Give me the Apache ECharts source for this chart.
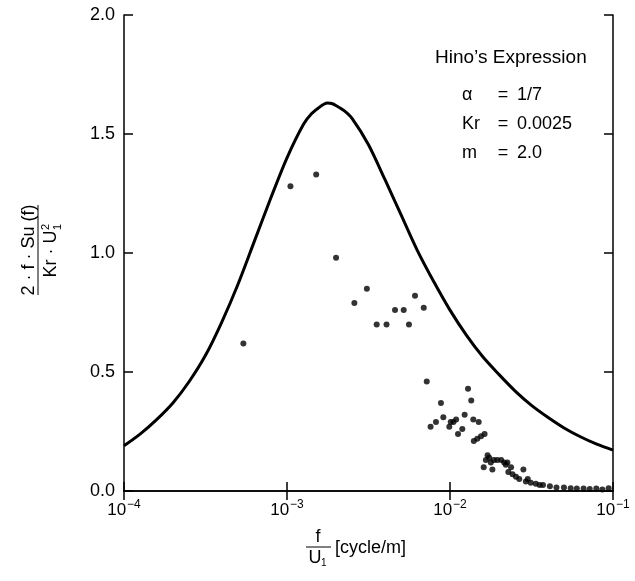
<!DOCTYPE html>
<html>
<head>
<meta charset="utf-8">
<script src="https://cdn.jsdelivr.net/npm/echarts@6/dist/echarts.min.js"></script>
<style>
  html, body { margin: 0; padding: 0; background: #fff; }
  #chart { width: 635px; height: 581px; }
</style>
</head>
<body>
<div id="chart"></div>
<script>
// Hino's expression curve (f [cycle/m], value)
const curveF = [1e-4, 1.26e-4, 1.585e-4, 1.995e-4, 2.512e-4, 3.162e-4, 3.981e-4, 5.012e-4, 6.31e-4, 7.943e-4,
  1e-3, 1.26e-3, 1.413e-3, 1.585e-3, 1.68e-3, 1.78e-3, 1.88e-3, 1.995e-3, 2.24e-3, 2.512e-3, 3.162e-3, 3.981e-3, 5.012e-3, 6.31e-3, 7.943e-3,
  1e-2, 1.26e-2, 1.585e-2, 1.995e-2, 2.512e-2, 3.162e-2, 3.981e-2, 5.012e-2, 6.31e-2, 7.943e-2, 1e-1];
const curveV = [0.19, 0.24, 0.30, 0.37, 0.46, 0.57, 0.71, 0.87, 1.05, 1.23,
  1.40, 1.54, 1.585, 1.613, 1.625, 1.63, 1.628, 1.62, 1.598, 1.565, 1.455, 1.31, 1.16, 1.01, 0.88,
  0.76, 0.655, 0.565, 0.49, 0.42, 0.36, 0.31, 0.265, 0.228, 0.197, 0.172];

// measured points
const obsF = [5.4e-4, 1.05e-3, 1.51e-3, 2.0e-3, 2.59e-3, 3.09e-3, 3.55e-3, 4.08e-3, 4.6e-3, 5.2e-3,
  5.6e-3, 6.1e-3, 6.9e-3, 7.2e-3, 7.6e-3, 8.2e-3, 8.8e-3, 9.1e-3, 9.9e-3, 1.01e-2,
  1.05e-2, 1.09e-2, 1.12e-2, 1.19e-2, 1.23e-2, 1.29e-2, 1.35e-2, 1.39e-2, 1.5e-2, 1.4e-2,
  1.47e-2, 1.55e-2, 1.63e-2, 1.61e-2, 1.66e-2, 1.7e-2, 1.74e-2, 1.78e-2, 1.82e-2, 1.86e-2,
  1.95e-2, 2.06e-2, 2.15e-2, 2.2e-2, 2.25e-2, 2.28e-2, 2.37e-2, 2.42e-2, 2.54e-2, 2.66e-2,
  2.82e-2, 2.92e-2, 3.0e-2, 3.13e-2, 3.36e-2, 3.55e-2, 3.72e-2, 4.1e-2, 4.5e-2, 5.0e-2,
  5.5e-2, 6.0e-2, 6.6e-2, 7.2e-2, 7.9e-2, 8.6e-2, 9.4e-2];
const obsV = [0.62, 1.28, 1.33, 0.98, 0.79, 0.85, 0.70, 0.70, 0.76, 0.76,
  0.70, 0.82, 0.77, 0.46, 0.27, 0.29, 0.37, 0.31, 0.27, 0.29,
  0.29, 0.30, 0.24, 0.26, 0.32, 0.43, 0.38, 0.30, 0.29, 0.21,
  0.22, 0.23, 0.24, 0.10, 0.13, 0.15, 0.14, 0.12, 0.09, 0.13,
  0.13, 0.13, 0.12, 0.11, 0.12, 0.08, 0.10, 0.07, 0.06, 0.05,
  0.09, 0.04, 0.05, 0.035, 0.03, 0.025, 0.025, 0.02, 0.015, 0.015,
  0.012, 0.01, 0.01, 0.008, 0.01, 0.006, 0.012];

const yTicks = ["0.0", "0.5", "1.0", "1.5", "2.0"];
const paramNames = ["\u03b1", "Kr", "m"];
const paramValues = ["1/7", "0.0025", "2.0"];

const FONT = "'Liberation Sans', Arial, sans-serif";
const chart = echarts.init(document.getElementById("chart"));

const axisLine = { show: true, lineStyle: { color: "#000", width: 1.5 } };
const tick = { show: true, inside: true, length: 9, lineStyle: { color: "#000", width: 1.5 } };

const params = [];
paramNames.forEach((n, i) => {
  const y = 95 + i * 29;
  params.push({ type: "text", x: 462, y: y, style: { text: n, font: "18px " + FONT, fill: "#000", verticalAlign: "middle" } });
  params.push({ type: "text", x: 503, y: y, style: { text: "=", font: "18px " + FONT, fill: "#000", align: "center", verticalAlign: "middle" } });
  params.push({ type: "text", x: 517, y: y, style: { text: paramValues[i], font: "18px " + FONT, fill: "#000", verticalAlign: "middle" } });
});

chart.setOption({
  backgroundColor: "#fff",
  animation: false,
  grid: { left: 124, right: 22, top: 15, bottom: 90 },
  xAxis: [
    {
      type: "log", logBase: 10, min: 1e-4, max: 1e-1, position: "bottom",
      axisLine: axisLine, axisTick: tick, splitLine: { show: false }, minorTick: { show: false },
      axisLabel: {
        margin: 8,
        formatter: v => {
          const e = Math.round(Math.log10(v));
          return "{b|10}{s|\u2212" + Math.abs(e) + "}";
        },
        rich: {
          b: { fontSize: 17, fontFamily: FONT, color: "#000", lineHeight: 20, verticalAlign: "bottom" },
          s: { fontSize: 12, fontFamily: FONT, color: "#000", lineHeight: 20, verticalAlign: "top", padding: [0, 0, 0, 1] }
        }
      }
    },
    {
      type: "log", logBase: 10, min: 1e-4, max: 1e-1, position: "top",
      axisLine: axisLine, axisTick: tick, axisLabel: { show: false }, splitLine: { show: false }
    }
  ],
  yAxis: [
    {
      type: "value", min: 0, max: 2, interval: 0.5, position: "left",
      axisLine: axisLine, axisTick: tick, splitLine: { show: false },
      axisLabel: {
        margin: 9, color: "#000", fontSize: 18, fontFamily: FONT,
        formatter: (v, i) => yTicks[i]
      }
    },
    {
      type: "value", min: 0, max: 2, interval: 0.5, position: "right",
      axisLine: axisLine, axisTick: tick, axisLabel: { show: false }, splitLine: { show: false }
    }
  ],
  graphic: [
    { type: "text", x: 435, y: 58, style: { text: "Hino\u2019s Expression", font: "19px " + FONT, fill: "#000", verticalAlign: "middle" } },
    ...params,
    // y-axis title, rotated fraction
    {
      type: "group", x: 38, y: 250, rotation: Math.PI / 2,
      children: [
        { type: "text", x: 0, y: -9, style: { text: "2 \u00b7 f \u00b7 Su (f)", font: "18px " + FONT, fill: "#000", align: "center", verticalAlign: "middle" } },
        { type: "line", shape: { x1: -45, y1: 0, x2: 45, y2: 0 }, style: { stroke: "#000", lineWidth: 1 } },
        { type: "text", x: -4, y: 13, style: { text: "Kr \u00b7 U", font: "18px " + FONT, fill: "#000", align: "center", verticalAlign: "middle" } },
        { type: "text", x: 20, y: 8, style: { text: "2", font: "11px " + FONT, fill: "#000", verticalAlign: "middle" } },
        { type: "text", x: 20, y: 20, style: { text: "1", font: "11px " + FONT, fill: "#000", verticalAlign: "middle" } }
      ]
    },
    // x-axis title
    { type: "text", x: 318, y: 537, style: { text: "f", font: "18px " + FONT, fill: "#000", align: "center", verticalAlign: "middle" } },
    { type: "line", shape: { x1: 306, y1: 547, x2: 331, y2: 547 }, style: { stroke: "#000", lineWidth: 1 } },
    { type: "text", x: 315, y: 558, style: { text: "U", font: "18px " + FONT, fill: "#000", align: "center", verticalAlign: "middle" } },
    { type: "text", x: 321, y: 563, style: { text: "1", font: "10px " + FONT, fill: "#000", verticalAlign: "middle" } },
    { type: "text", x: 335, y: 548, style: { text: "[cycle/m]", font: "18px " + FONT, fill: "#000", verticalAlign: "middle" } }
  ],
  series: [
    {
      name: "Hino", type: "line", xAxisIndex: 0, yAxisIndex: 0,
      data: curveF.map((f, i) => [f, curveV[i]]),
      smooth: 0.3, showSymbol: false, symbol: "none",
      lineStyle: { color: "#000", width: 3 }
    },
    {
      name: "obs", type: "scatter", xAxisIndex: 0, yAxisIndex: 0,
      data: obsF.map((f, i) => [f, obsV[i]]),
      symbol: "circle", symbolSize: 6,
      itemStyle: { color: "#000" }
    }
  ]
});
</script>
</body>
</html>
